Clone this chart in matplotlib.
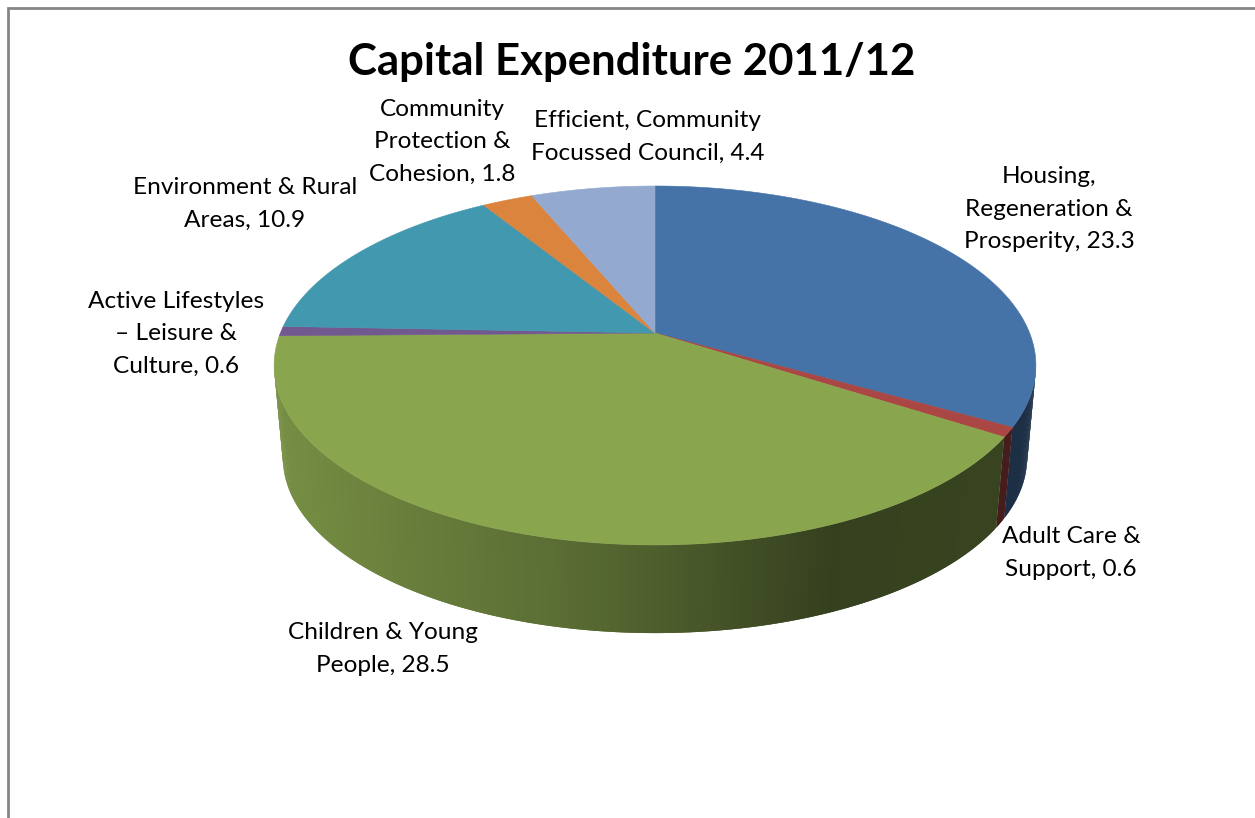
import numpy as np
import matplotlib
matplotlib.use("Agg")
import matplotlib.pyplot as plt
from matplotlib.path import Path
from matplotlib.transforms import Transform, Affine2D

# ---- data ----
title = "Capital Expenditure 2011/12"
categories = ["Housing,\nRegeneration &\nProsperity", "Adult Care &\nSupport",
              "Children & Young\nPeople", "Active Lifestyles\n\u2013 Leisure &\nCulture",
              "Environment & Rural\nAreas", "Community\nProtection &\nCohesion",
              "Efficient, Community\nFocussed Council"]
values = [23.3, 0.6, 28.5, 0.6, 10.9, 1.8, 4.4]
colors = ["#4572A7", "#AA4643", "#89A54E", "#71588F", "#4198AF", "#DB843D", "#93A9CF"]
label_xy = [(1049, 209), (1071, 553), (383, 649), (176, 334), (245, 204), (442, 142), (648, 137)]

# ---- perspective of the pie ----
W_PERSP = 0.181
def project(x, y, apex_y=333.0, scale=1.0):
    d = 1 + W_PERSP * y
    return 655.0 + scale * 374.6 * x / d, apex_y - scale * 173.6 * y / d

class Persp(Transform):
    input_dims = output_dims = 2
    is_separable = False
    has_inverse = False
    def transform_non_affine(self, values):
        v = np.asarray(values, float)
        px, py = project(v[:, 0], v[:, 1])
        return np.column_stack([px, py])
    def transform_path_non_affine(self, path):
        big = path.transformed(Affine2D().scale(2000))
        polys = big.to_polygons(closed_only=False)
        pts = np.concatenate(polys) / 2000.0
        return Path(self.transform_non_affine(pts), closed=True)

plt.rcParams['font.family'] = ['Lato', 'DejaVu Sans']
fig = plt.figure(figsize=(12.55, 8.18), dpi=100, facecolor="white")
ax = fig.add_axes([0, 0, 1, 1])

wedges, _ = ax.pie(values, colors=colors, startangle=90, counterclock=False, radius=1,
                   wedgeprops=dict(linewidth=0.4))
ax.set_aspect('auto')
ax.set_xlim(0, 1255)
ax.set_ylim(818, 0)
ax.axis('off')
persp = Persp()
for w, c in zip(wedges, colors):
    w.set_transform(persp + ax.transData)
    w.set_edgecolor(c)
    w.set_zorder(3)

# side wall: overlapping strips between the upper and lower rim, shaded by position
shade_x = [283, 400, 560, 655, 750, 830, 1000, 1030]
shade_f = [.86, .77, .66, .57, .47, .39, .41, .42]
edges = np.concatenate([[0], np.cumsum(values)]) / np.sum(values) * 360.0
tmin = np.degrees(np.arccos(-W_PERSP))
tmax = 360 - tmin
for i, c in enumerate(colors):
    a0, a1 = max(edges[i], tmin), min(edges[i + 1], tmax)
    if a1 <= a0:
        continue
    th = np.radians(np.linspace(a0, a1, max(3, int((a1 - a0) * 2) + 1)))
    for k in range(len(th) - 1):
        t0, t1 = th[k], th[min(k + 2, len(th) - 1)]
        xu, yu = project(np.sin([t0, t1]), np.cos([t0, t1]))
        xl, yl = project(np.sin([t1, t0]), np.cos([t1, t0]), apex_y=426.0, scale=0.977)
        f = np.interp((xu.mean() + xl.mean()) / 2, shade_x, shade_f)
        col = np.array(matplotlib.colors.to_rgb(c)) * f
        ax.fill(np.r_[xu, xl], np.r_[yu, yl], color=col, lw=0, zorder=2)

# frame of the chart area
ax.plot([8, 8, 1255], [818, 8, 8], color="#868686", lw=2, zorder=1, solid_joinstyle='miter')

for cat, val, (x, y) in zip(categories, values, label_xy):
    ax.text(x, y, f"{cat}, {val}", ha="center", va="center", fontsize=17.6,
            linespacing=1.66, color="black", zorder=5)
ax.text(632, 62, title, ha="center", va="center", fontsize=31.5, fontweight="bold", color="black", zorder=5)

fig.savefig("out.png", dpi=100)
